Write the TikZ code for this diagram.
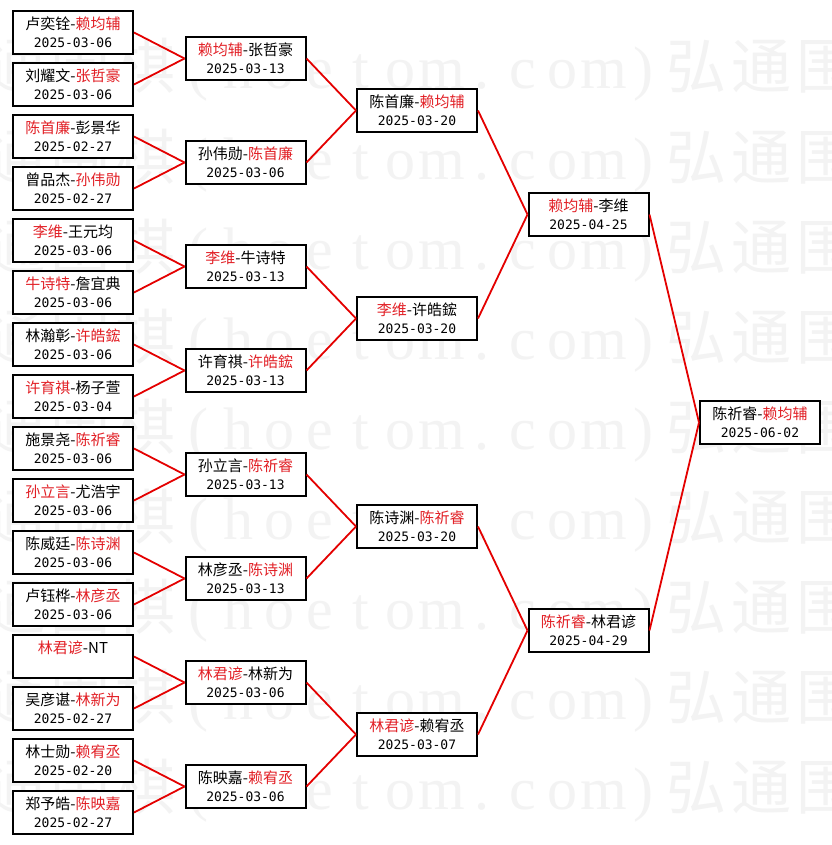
\documentclass[tikz,border=0pt]{standalone}
\usepackage{fontspec}
\setmainfont{Noto Sans CJK SC}
\newfontfamily\cjk{Noto Sans CJK SC}
\newfontfamily\datefont{DejaVu Sans Mono}
\newfontfamily\wmserif{Liberation Serif}
\definecolor{wred}{RGB}{226,32,38}
\definecolor{lred}{RGB}{228,0,0}
\definecolor{wmark}{RGB}{243,243,243}
\newcommand{\W}[1]{\textcolor{wred}{#1}}
\newcommand{\dt}[1]{{\datefont\fontsize{13pt}{18pt}\selectfont #1}}
\newcommand{\wl}[1]{\makebox[40.5pt]{\wmserif #1}}
\newcommand{\wk}[1]{\makebox[65pt]{\cjk #1}}
\newcommand{\wmrow}{\wk{通}\wk{围}\wk{棋}\wl{(}\wl{h}\wl{o}\wl{e}\wl{t}\wl{o}\wl{m}\wl{.}\wl{c}\wl{o}\wl{m}\wl{)}\wk{弘}\wk{通}\wk{围}}
\tikzset{
  box/.style={draw=black, fill=white, line width=2pt, minimum width=120pt, minimum height=43pt,
    inner sep=0pt, align=center, font=\cjk\fontsize{15pt}{18pt}\selectfont},
  link/.style={draw=lred, line width=1.8pt},
  wm/.style={anchor=base west, inner sep=0pt, text=wmark, font=\fontsize{60pt}{66pt}\selectfont},
}
\begin{document}
\begin{tikzpicture}[x=1pt, y=-1pt]
\useasboundingbox (0,0) rectangle (831,845);
\fill[white] (0,0) rectangle (831,845);
\begin{scope}
\clip (0,0) rectangle (831,845);
\foreach \k in {0,...,8} {
  \node[wm] (wm\k) at (-17, 89+90*\k) {\wmrow};
}
\end{scope}

% Round 1
\node[box] (a1)  at (73, 32.5)  {卢奕铨-\W{赖均辅}\\\dt{2025-03-06}};
\node[box] (a2)  at (73, 84.5)  {刘耀文-\W{张哲豪}\\\dt{2025-03-06}};
\node[box] (a3)  at (73, 136.5) {\W{陈首廉}-彭景华\\\dt{2025-02-27}};
\node[box] (a4)  at (73, 188.5) {曾品杰-\W{孙伟勋}\\\dt{2025-02-27}};
\node[box] (a5)  at (73, 240.5) {\W{李维}-王元均\\\dt{2025-03-06}};
\node[box] (a6)  at (73, 292.5) {\W{牛诗特}-詹宜典\\\dt{2025-03-06}};
\node[box] (a7)  at (73, 344.5) {林瀚彰-\W{许皓鋐}\\\dt{2025-03-06}};
\node[box] (a8)  at (73, 396.5) {\W{许育祺}-杨子萱\\\dt{2025-03-04}};
\node[box] (a9)  at (73, 448.5) {施景尧-\W{陈祈睿}\\\dt{2025-03-06}};
\node[box] (a10) at (73, 500.5) {\W{孙立言}-尤浩宇\\\dt{2025-03-06}};
\node[box] (a11) at (73, 552.5) {陈威廷-\W{陈诗渊}\\\dt{2025-03-06}};
\node[box] (a12) at (73, 604.5) {卢钰桦-\W{林彦丞}\\\dt{2025-03-06}};
\node[box] (a13) at (73, 656.5) {\W{林君谚}-NT\\\phantom{\dt{2025-02-27}}};
\node[box] (a14) at (73, 708.5) {吴彦谌-\W{林新为}\\\dt{2025-02-27}};
\node[box] (a15) at (73, 760.5) {林士勋-\W{赖宥丞}\\\dt{2025-02-20}};
\node[box] (a16) at (73, 812.5) {郑予皓-\W{陈映嘉}\\\dt{2025-02-27}};

% Round 2
\node[box] (b1) at (245.5, 58.5)  {\W{赖均辅}-张哲豪\\\dt{2025-03-13}};
\node[box] (b2) at (245.5, 162.5) {孙伟勋-\W{陈首廉}\\\dt{2025-03-06}};
\node[box] (b3) at (245.5, 266.5) {\W{李维}-牛诗特\\\dt{2025-03-13}};
\node[box] (b4) at (245.5, 370.5) {许育祺-\W{许皓鋐}\\\dt{2025-03-13}};
\node[box] (b5) at (245.5, 474.5) {孙立言-\W{陈祈睿}\\\dt{2025-03-13}};
\node[box] (b6) at (245.5, 578.5) {林彦丞-\W{陈诗渊}\\\dt{2025-03-13}};
\node[box] (b7) at (245.5, 682.5) {\W{林君谚}-林新为\\\dt{2025-03-06}};
\node[box] (b8) at (245.5, 786.5) {陈映嘉-\W{赖宥丞}\\\dt{2025-03-06}};

% Round 3
\node[box] (c1) at (417, 110.5) {陈首廉-\W{赖均辅}\\\dt{2025-03-20}};
\node[box] (c2) at (417, 318.5) {\W{李维}-许皓鋐\\\dt{2025-03-20}};
\node[box] (c3) at (417, 526.5) {陈诗渊-\W{陈祈睿}\\\dt{2025-03-20}};
\node[box] (c4) at (417, 734.5) {\W{林君谚}-赖宥丞\\\dt{2025-03-07}};

% Round 4
\node[box] (d1) at (588.5, 214.5) {\W{赖均辅}-李维\\\dt{2025-04-25}};
\node[box] (d2) at (588.5, 630.5) {\W{陈祈睿}-林君谚\\\dt{2025-04-29}};

% Final
\node[box] (f) at (760, 422.5) {陈祈睿-\W{赖均辅}\\\dt{2025-06-02}};

% Links
\foreach \i/\p in {1/1,2/1,3/2,4/2,5/3,6/3,7/4,8/4,9/5,10/5,11/6,12/6,13/7,14/7,15/8,16/8} {
  \draw[link] (a\i.east) -- (b\p.west);
}
\foreach \i/\p in {1/1,2/1,3/2,4/2,5/3,6/3,7/4,8/4} {
  \draw[link] (b\i.east) -- (c\p.west);
}
\foreach \i/\p in {1/1,2/1,3/2,4/2} {
  \draw[link] (c\i.east) -- (d\p.west);
}
\draw[link] (d1.east) -- (f.west);
\draw[link] (d2.east) -- (f.west);
\end{tikzpicture}
\end{document}
